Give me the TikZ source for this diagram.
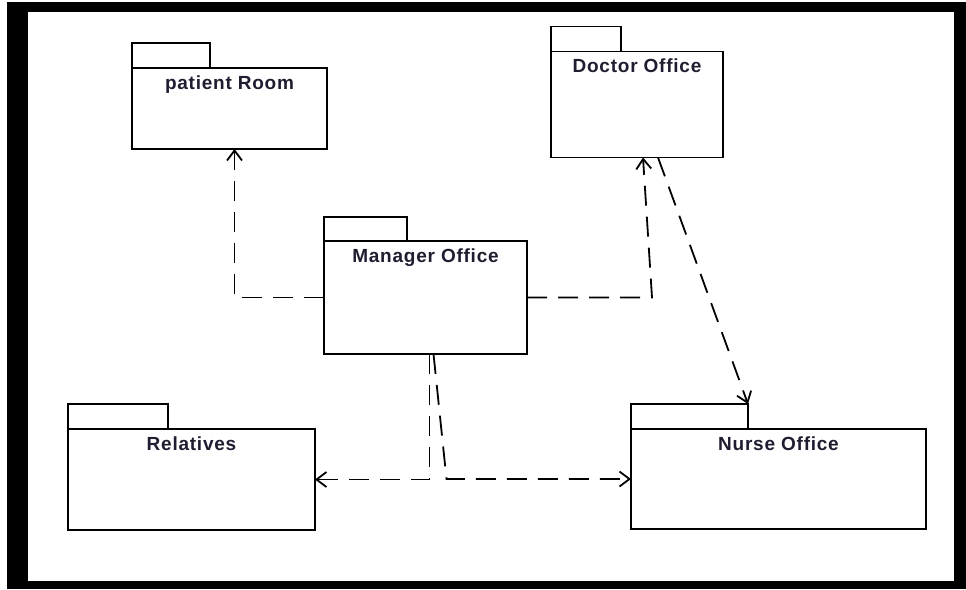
\documentclass[tikz,border=0pt]{standalone}
\usepackage{fontspec}
\setmainfont{Liberation Sans}
\newfontfamily\pkgfont[LetterSpace=4]{Liberation Sans}
\usetikzlibrary{positioning,arrows.meta}
\definecolor{pkgtext}{RGB}{30,30,48}
\tikzset{
	pkg/.style={draw, line width=1.8pt, outer sep=0pt, inner sep=0pt, fill=white},
	pkgtab/.style={pkg, minimum height=25},
	pkgname/.style={font=\pkgfont\fontsize{19}{22}\selectfont\bfseries, text=pkgtext, anchor=base, yshift=-21pt},
	dep/.style={line width=1.8pt, dash pattern=on 20pt off 11pt, -{Straight Barb[length=10pt,width=15pt]}}
}

\begin{document}
\begin{tikzpicture}[x=1pt, y=-1pt]
	\useasboundingbox (0,0) rectangle (966,589);
	\fill (7,2) rectangle (966,589);
	\fill[white] (28,12) rectangle (954,581);

	\node[pkg, minimum width=195, minimum height=81, label={[pkgname]north:patient Room}] (pr) at (229.5,108.5) {};
	\node[pkgtab, minimum width=78, above right=0pt and 0pt of pr.north west] (prt) {};
	\node[pkg, minimum width=172, minimum height=106, label={[pkgname]north:Doctor Office}] (doc) at (637,104.5) {};
	\node[pkgtab, minimum width=70, above right=0pt and 0pt of doc.north west] (doct) {};
	\node[pkg, minimum width=203, minimum height=113, label={[pkgname]north:Manager Office}] (mgr) at (425.5,297.5) {};
	\node[pkgtab, minimum width=83, minimum height=24, above right=0pt and 0pt of mgr.north west] (mgrt) {};
	\node[pkg, minimum width=247, minimum height=101, label={[pkgname]north:Relatives}] (rel) at (191.5,479.5) {};
	\node[pkgtab, minimum width=100, above right=0pt and 0pt of rel.north west] (relt) {};
	\node[pkg, minimum width=295, minimum height=100, label={[pkgname]north:Nurse Office}] (nur) at (778.5,479) {};
	\node[pkgtab, minimum width=117, above right=0pt and 0pt of nur.north west] (nurt) {};

	\draw[dep] (mgr.west) -| ([xshift=5pt]pr.south);
	\draw[dep] (mgr.east) -- ([xshift=15pt]doc.south |- mgr.east) -- ([xshift=6pt]doc.south);
	\draw[dep] ([xshift=21pt]doc.south) -- (nurt.north east);
	\draw[dep] ([xshift=4pt]mgr.south) |- (rel.east);
	\draw[dep] ([xshift=8pt]mgr.south) -- ([xshift=21pt]mgr.south |- nur.west) -- (nur.west);
\end{tikzpicture}
\end{document}
